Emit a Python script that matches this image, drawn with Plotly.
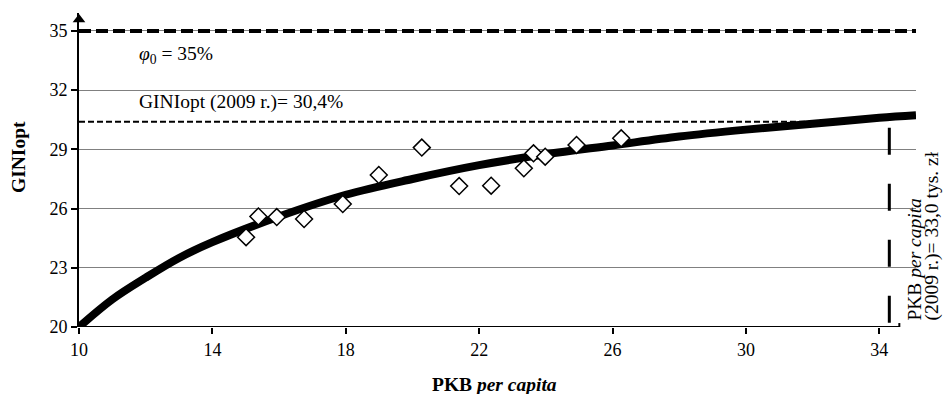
import plotly.graph_objects as go

# Observed data points (PKB per capita, GINIopt)
pts_x = [15.01, 15.38, 15.93, 16.75, 17.91, 18.99, 20.28, 21.40, 22.36, 23.34, 23.63, 23.98, 24.92, 26.26]
pts_y = [24.55, 25.60, 25.57, 25.47, 26.23, 27.70, 29.09, 27.14, 27.16, 28.04, 28.80, 28.63, 29.22, 29.56]

# Trend curve
curve_x = [10, 11, 12, 13, 14, 16, 18, 20, 22, 24, 26, 28, 30, 32, 34, 35.1]
curve_y = [20.0, 21.4, 22.5, 23.5, 24.3, 25.6, 26.7, 27.5, 28.2, 28.75, 29.2, 29.65, 30.0, 30.3, 30.6, 30.73]

x_ticks = [10, 14, 18, 22, 26, 30, 34]
y_ticks = [20, 23, 26, 29, 32, 35]

phi0 = 35
gini_2009 = 30.4
pkb_2009_pos = 34.3
x_min, x_max, x_axis_end = 10, 35.1, 34.6
y_min, y_max = 20, 35.91

FONT = "Liberation Serif"
TICK_SIZE = 18
TEXT_SIZE = 19.5

fig = go.Figure()

fig.add_trace(go.Scatter(x=curve_x, y=curve_y, mode="lines", line=dict(color="black", width=8, shape="spline"),
                         hoverinfo="skip", showlegend=False))
fig.add_trace(go.Scatter(x=pts_x, y=pts_y, mode="markers",
                         marker=dict(symbol="diamond", size=13, color="white", line=dict(color="black", width=1.5)),
                         showlegend=False))
# arrow on top of the y axis
fig.add_trace(go.Scatter(x=[x_min], y=[35.58], mode="markers", cliponaxis=False,
                         marker=dict(symbol="triangle-up", size=11, color="black"),
                         hoverinfo="skip", showlegend=False))

shapes = [
    dict(type="line", xref="x", yref="y", x0=x_min, x1=x_max, y0=phi0, y1=phi0,
         line=dict(color="black", width=4, dash="12px,5px"), layer="above"),
    dict(type="line", xref="x", yref="y", x0=x_min, x1=33.0, y0=gini_2009, y1=gini_2009,
         line=dict(color="black", width=2, dash="6px,3px"), layer="between"),
    dict(type="line", xref="x", yref="y", x0=pkb_2009_pos, x1=pkb_2009_pos, y0=30.09, y1=y_min,
         line=dict(color="black", width=3, dash="27px,29px"), layer="above"),
    dict(type="line", xref="x", yref="y", x0=x_min, x1=x_axis_end, y0=y_min, y1=y_min,
         line=dict(color="black", width=2), layer="above"),
    dict(type="line", xref="x", yref="y", x0=x_axis_end, x1=x_axis_end, y0=19.8, y1=20.2,
         line=dict(color="black", width=2), layer="above"),
]

annotations = [
    dict(xref="x", yref="y", x=11.74, y=33.78, xanchor="left", yanchor="middle", showarrow=False,
         text="<i>φ</i><sub>0</sub> = 35%", font=dict(family=FONT, size=TEXT_SIZE, color="black")),
    dict(xref="x", yref="y", x=11.74, y=31.40, xanchor="left", yanchor="middle", showarrow=False,
         text="GINIopt (2009 r.)= 30,4%", font=dict(family=FONT, size=TEXT_SIZE, color="black")),
    dict(xref="paper", yref="y", x=0.9988, y=20.25, xanchor="center", yanchor="bottom", showarrow=False,
         textangle=-90, text="PKB <i>per capita</i>", font=dict(family=FONT, size=TEXT_SIZE, color="black")),
    dict(xref="paper", yref="y", x=1.0191, y=20.25, xanchor="center", yanchor="bottom", showarrow=False,
         textangle=-90, text="(2009 r.)= 33,0 tys. zł", font=dict(family=FONT, size=TEXT_SIZE, color="black")),
    dict(xref="paper", yref="paper", x=-0.073, y=0.541, xanchor="center", yanchor="middle", showarrow=False,
         textangle=-90, text="<b>GINIopt</b>", font=dict(family=FONT, size=TEXT_SIZE, color="black")),
    dict(xref="paper", yref="paper", x=0.496, y=-0.182, xanchor="center", yanchor="middle", showarrow=False,
         text="<b>PKB </b><b><i>per capita</i></b>", font=dict(family=FONT, size=TEXT_SIZE, color="black")),
]

fig.update_layout(
    width=944, height=394,
    margin=dict(l=79, r=28, t=13, b=67),
    paper_bgcolor="white", plot_bgcolor="white",
    font=dict(family=FONT, size=TICK_SIZE, color="black"),
    shapes=shapes, annotations=annotations,
    showlegend=False,
)
fig.update_xaxes(range=[x_min, x_max], tickvals=x_ticks, ticks="outside", ticklen=6, tickcolor="black",
                 tickwidth=1.5, showgrid=False, zeroline=False, showline=False,
                 tickfont=dict(family=FONT, size=TICK_SIZE, color="black"))
fig.update_yaxes(range=[y_min, y_max], tickvals=y_ticks, ticks="outside", ticklen=6, tickcolor="black",
                 tickwidth=1.5, showgrid=True, gridcolor="#808080", gridwidth=1, zeroline=False,
                 showline=True, linecolor="black", linewidth=2,
                 tickfont=dict(family=FONT, size=TICK_SIZE, color="black"))

fig.write_html("out.html", config={"displayModeBar": False},
               post_script="document.body.style.margin='0';document.body.style.overflow='hidden';")
